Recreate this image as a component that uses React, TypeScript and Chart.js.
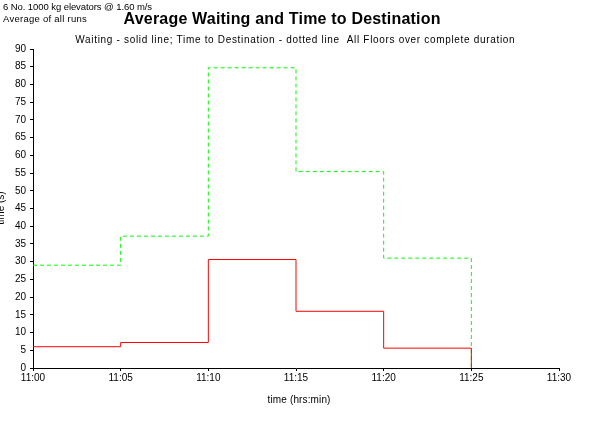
import React, { useEffect, useRef } from 'react';
import { Chart, registerables } from 'chart.js';
Chart.register(...registerables);

const xTickLabels = ['11:00', '11:05', '11:10', '11:15', '11:20', '11:25', '11:30'];
const stepMinutes = [0, 5, 10, 15, 20, 25];
const waiting = [6.0, 7.2, 30.6, 16.0, 5.6, 0];
const destination = [29.0, 37.2, 84.7, 55.4, 31.0, 0];

const FONT = '"Liberation Sans", Arial, sans-serif';

function fitText(ctx: any, text: string, x: number, y: number, width: number) {
  ctx.letterSpacing = '0px';
  const w = ctx.measureText(text).width;
  const sp = (width - w) / Math.max(1, text.length);
  ctx.letterSpacing = `${sp}px`;
  let dx = x;
  if (ctx.textAlign === 'center') dx = x + sp / 2;
  ctx.fillText(text, dx, y);
  ctx.letterSpacing = '0px';
}

const textPlugin = {
  id: 'texts',
  afterDraw(chart: any) {
    const ctx = chart.ctx;
    ctx.save();
    ctx.fillStyle = '#000';
    ctx.textBaseline = 'middle';
    ctx.textAlign = 'left';
    ctx.font = `9.5px ${FONT}`;
    fitText(ctx, '6 No. 1000 kg elevators @ 1.60 m/s', 3, 7, 149);
    fitText(ctx, 'Average of all runs', 3, 19, 84);
    ctx.textAlign = 'center';
    ctx.font = `bold 16px ${FONT}`;
    fitText(ctx, 'Average Waiting and Time to Destination', 282, 20, 317);
    ctx.font = `10px ${FONT}`;
    fitText(ctx, 'Waiting - solid line; Time to Destination - dotted line  All Floors over complete duration', 295, 40, 440);
    fitText(ctx, 'time (hrs:min)', 299, 400, 63);
    ctx.translate(1, 208);
    ctx.rotate(-Math.PI / 2);
    ctx.fillText('time (s)', 0, 0);
    ctx.restore();
  },
};

export default function App() {
  const ref = useRef<HTMLCanvasElement>(null);
  useEffect(() => {
    if (!ref.current) return;
    const chart = new Chart(ref.current, {
      type: 'line',
      data: {
        datasets: [
          {
            label: 'Waiting',
            data: stepMinutes.map((m, i) => ({ x: m, y: waiting[i] })),
            borderColor: '#ff0000',
            borderWidth: 1,
            stepped: 'before',
            pointRadius: 0,
            fill: false,
          },
          {
            label: 'Time to Destination',
            data: stepMinutes.map((m, i) => ({ x: m, y: destination[i] })),
            borderColor: '#00ff00',
            borderWidth: 1,
            borderDash: [4, 3],
            stepped: 'before',
            pointRadius: 0,
            fill: false,
          },
        ],
      },
      options: {
        responsive: false,
        animation: false,
        layout: { padding: { left: 0, right: 43, top: 49, bottom: 0 } },
        plugins: { legend: { display: false }, tooltip: { enabled: false }, title: { display: false } },
        scales: {
          x: {
            type: 'linear',
            min: 0,
            max: 30,
            afterFit: (s: any) => { s.height = 73; },
            ticks: {
              stepSize: 5,
              autoSkip: false,
              maxRotation: 0,
              color: '#000',
              font: { family: FONT, size: 10 },
              padding: 1,
              callback: (v: any) => xTickLabels[Math.round(Number(v) / 5)] ?? '',
            },
            grid: { display: true, drawOnChartArea: false, drawTicks: true, tickLength: 3, color: '#000' },
            border: { display: true, color: '#000', width: 1 },
          },
          y: {
            min: 0,
            max: 90,
            afterFit: (s: any) => { s.width = 33; },
            ticks: {
              stepSize: 5,
              autoSkip: false,
              color: '#000',
              font: { family: FONT, size: 10 },
              padding: 4,
            },
            grid: { display: true, drawOnChartArea: false, drawTicks: true, tickLength: 3, color: '#000' },
            border: { display: true, color: '#000', width: 1 },
          },
        },
      },
      plugins: [textPlugin],
    });
    return () => chart.destroy();
  }, []);
  return (
    <div style={{ position: 'absolute', left: 0, top: 0, width: 602, height: 441, background: '#fff' }}>
      <canvas ref={ref} width={602} height={441} style={{ display: 'block' }} />
    </div>
  );
}
